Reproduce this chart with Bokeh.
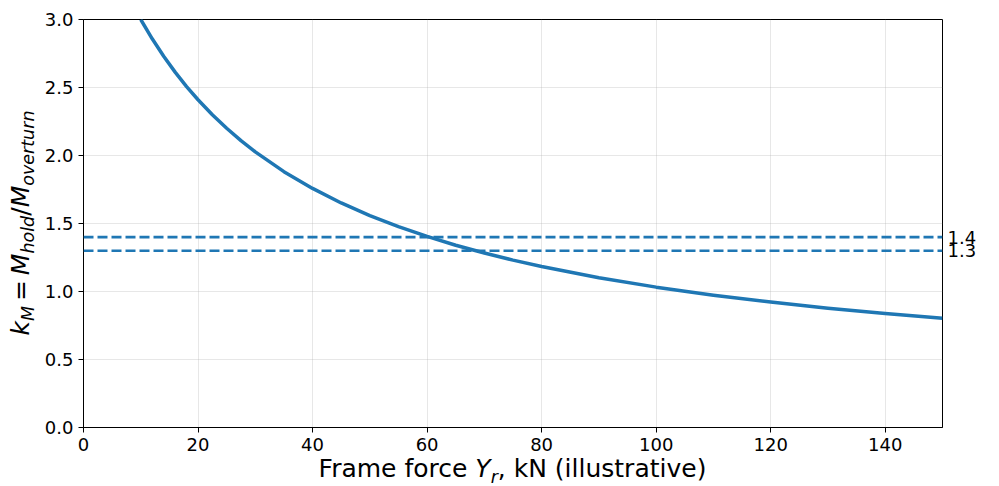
from bokeh.plotting import figure
from bokeh.layouts import column
from bokeh.models import (Span, FixedTicker, NumeralTickFormatter, Range1d,
                          LinearAxis, AllLabels, Div)
from bokeh.embed import file_html
from bokeh.resources import INLINE

# ---- data ----
force_kn = [10, 12, 14, 16, 18, 20, 22.5, 25, 27.5, 30, 35, 40, 45, 50, 55, 60,
            65, 70, 75, 80, 90, 100, 110, 120, 130, 140, 150]
k_m = [3.000, 2.858, 2.730, 2.613, 2.507, 2.410, 2.300, 2.200, 2.109, 2.027,
       1.881, 1.758, 1.651, 1.558, 1.477, 1.405, 1.340, 1.283, 1.231, 1.184,
       1.101, 1.032, 0.973, 0.922, 0.877, 0.838, 0.803]
x_ticks = [0, 20, 40, 60, 80, 100, 120, 140]
y_ticks = [0.0, 0.5, 1.0, 1.5, 2.0, 2.5, 3.0]
thresholds = [1.4, 1.3]
# (text, italic, subscript)
x_label_parts = [("Frame force ", False, False), ("Y", True, False),
                 ("r", True, True), (", kN (illustrative)", False, False)]
y_label_parts = [("k", True, False), ("M", True, True), ("=", False, False),
                 ("M", True, False), ("hold", True, True), ("/", False, False),
                 ("M", True, False), ("overturn", True, True)]

# ---- layout constants (pixels) ----
X0, X1 = 0, 150
Y0, Y1 = 0, 3
TOTAL_W, TOTAL_H = 999, 486
FW, FH = 859, 408
B_LEFT, B_TOP, B_RIGHT = 83, 19, 57
B_BOTTOM = TOTAL_H - B_TOP - FH
XLABEL_BASELINE = 477    # page y of the x-title baseline
YLABEL_BASELINE = 28.5   # page x of the y-title baseline

FONT = "DejaVu Sans"
MAIN = 25.0
SUB = MAIN * 0.7
SUB_SHIFT = 5.5
REL_PAD = 4.9            # extra space around "="
BLUE = "#1f77b4"

# ---- main plot ----
p = figure(frame_width=FW, frame_height=FH,
           x_range=Range1d(X0, X1), y_range=Range1d(Y0, Y1),
           output_backend="svg", toolbar_location=None,
           min_border_left=B_LEFT, min_border_top=B_TOP,
           min_border_right=B_RIGHT, min_border_bottom=B_BOTTOM,
           background_fill_color="white", border_fill_color="white")

p.outline_line_color = "black"
p.outline_line_width = 1
p.outline_line_alpha = 1

for ax in (p.xaxis[0], p.yaxis[0]):
    ax.axis_line_color = "black"
    ax.major_tick_line_color = "black"
    ax.major_tick_out = 5
    ax.major_tick_in = 0
    ax.minor_tick_line_color = None
    ax.major_label_text_font = FONT
    ax.major_label_text_font_size = "18px"
    ax.major_label_text_color = "black"
    ax.major_label_standoff = 5
    ax.axis_label = None

p.xaxis[0].ticker = FixedTicker(ticks=x_ticks)
p.yaxis[0].ticker = FixedTicker(ticks=y_ticks)
p.xaxis[0].formatter = NumeralTickFormatter(format="0")
p.yaxis[0].formatter = NumeralTickFormatter(format="0.0")

p.grid.grid_line_color = "#b0b0b0"
p.grid.grid_line_alpha = 0.3
p.grid.grid_line_width = 1
p.xgrid.ticker = FixedTicker(ticks=x_ticks)
p.ygrid.ticker = FixedTicker(ticks=y_ticks)

for thr in thresholds:
    p.add_layout(Span(location=thr, dimension="width", line_color=BLUE,
                      line_width=2.6, line_dash="10 4"))

# threshold value labels on the right, placed by an axis on the same y scale
thr_axis = LinearAxis(ticker=FixedTicker(ticks=thresholds),
                      formatter=NumeralTickFormatter(format="0.0"),
                      major_label_policy=AllLabels(),
                      axis_line_color=None, major_tick_line_color=None,
                      minor_tick_line_color=None, major_tick_out=0,
                      major_tick_in=0, major_label_standoff=5,
                      major_label_text_font=FONT,
                      major_label_text_font_size="18px",
                      major_label_text_color="black")
p.add_layout(thr_axis, "right")

p.line(force_kn, k_m, line_color=BLUE, line_width=3.5, line_join="round")


# ---- axis titles with italics and subscripts, as real SVG text ----
def tspans(parts):
    out = []
    shifted = False
    pad_next = False
    for t, it, sub in parts:
        style = (f"font-family:'{FONT}';font-size:{SUB if sub else MAIN}px;"
                 f"font-style:{'italic' if it else 'normal'}")
        attrs = [f'style="{style}"']
        dy = 0.0
        if sub and not shifted:
            dy, shifted = SUB_SHIFT, True
        elif not sub and shifted:
            dy, shifted = -SUB_SHIFT, False
        if dy:
            attrs.append(f'dy="{dy}"')
        dx = 0.0
        if pad_next:
            dx += REL_PAD
            pad_next = False
        if t == "=":
            dx += REL_PAD
            pad_next = True
        if dx:
            attrs.append(f'dx="{dx}"')
        out.append(f'<tspan {" ".join(attrs)}>{t}</tspan>')
    return "".join(out)


cx = B_LEFT + FW / 2.0
cy = B_TOP + FH / 2.0
TSTYLE = f"font-family:'{FONT}';font-size:{MAIN}px;fill:black"
svg = (
    f'<svg xmlns="http://www.w3.org/2000/svg" width="{TOTAL_W}" '
    f'height="{TOTAL_H}" style="position:absolute;left:0;top:0;'
    f'overflow:visible;pointer-events:none" xml:space="preserve">'
    f'<text style="{TSTYLE}" x="{cx}" y="{XLABEL_BASELINE}" '
    f'text-anchor="middle">{tspans(x_label_parts)}</text>'
    f'<text style="{TSTYLE}" x="{YLABEL_BASELINE}" y="{cy}" '
    f'text-anchor="middle" '
    f'transform="rotate(-90 {YLABEL_BASELINE} {cy})">'
    f'{tspans(y_label_parts)}</text>'
    f'</svg>'
)

titles = Div(text=svg, width=TOTAL_W, height=TOTAL_H,
             margin=(-TOTAL_H, 0, 0, 0),
             styles={"position": "relative", "z-index": "10",
                     "pointer-events": "none",
                     "font-family": f"'{FONT}'"})

layout = column(p, titles)
open("out.html", "w").write(file_html(layout, INLINE))
